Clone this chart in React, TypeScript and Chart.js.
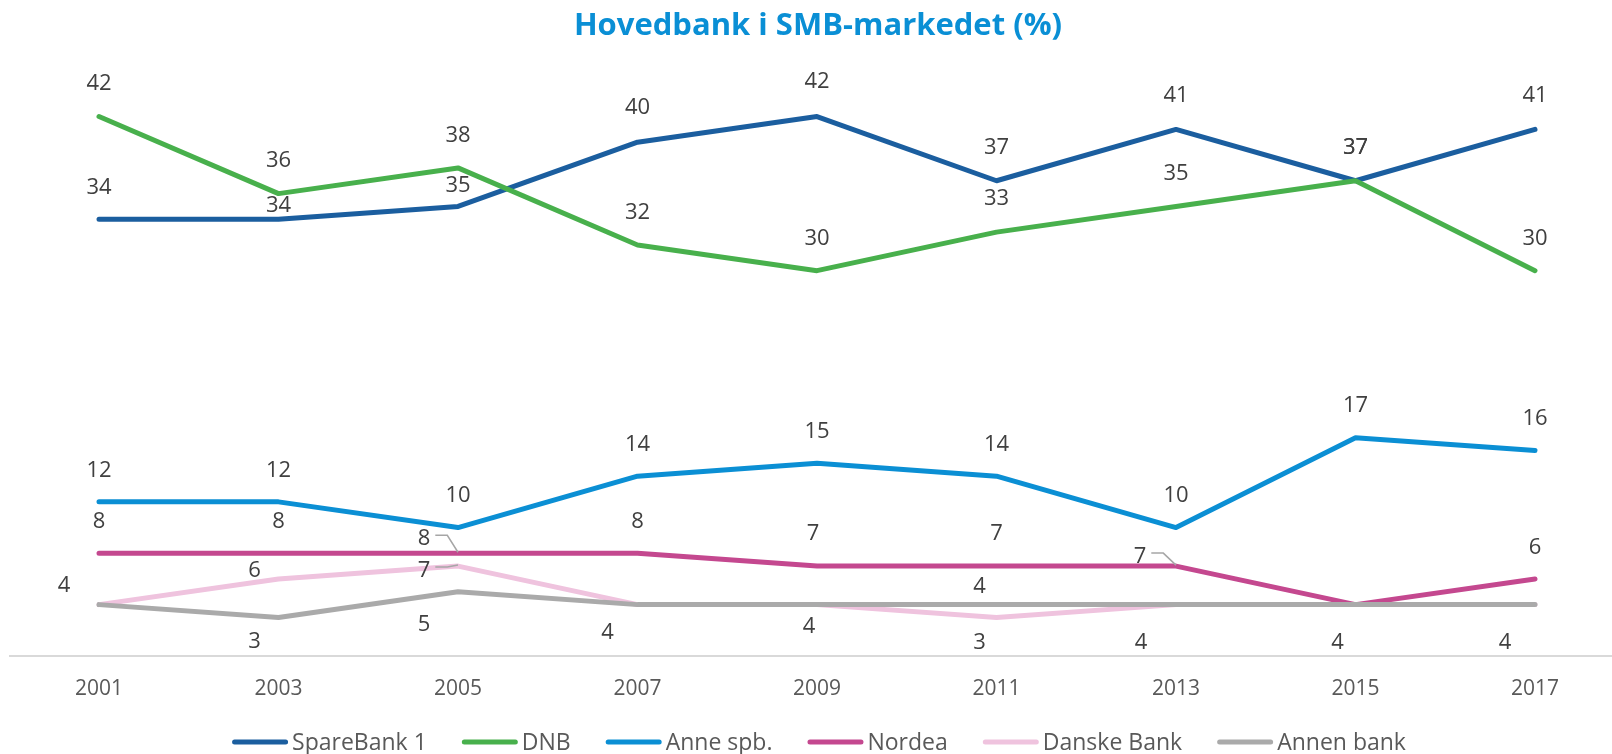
import React, { useEffect, useRef } from 'react';
import { Chart, registerables } from 'chart.js';

Chart.register(...registerables);

const years = ['2001', '2003', '2005', '2007', '2009', '2011', '2013', '2015', '2017'];

const spareBank1 = [34, 34, 35, 40, 42, 37, 41, 37, 41];
const dnb = [42, 36, 38, 32, 30, 33, 35, 37, 30];
const anneSpb = [12, 12, 10, 14, 15, 14, 10, 17, 16];
const nordea = [8, 8, 8, 8, 7, 7, 7, 4, 6];
const danskeBank = [4, 6, 7, 4, 4, 3, 4, 4, 4];
const annenBank = [4, 3, 5, 4, 4, 4, 4, 4, 4];

const seriesNames = ['SpareBank 1', 'DNB', 'Anne spb.', 'Nordea', 'Danske Bank', 'Annen bank'];
const seriesColors = ['#1b5e9f', '#48b04c', '#0b8fd4', '#c4488f', '#efc3de', '#aaaaaa'];

const TITLE = 'Hovedbank i SMB-markedet (%)';
const FONT = '"Open Sans", "DejaVu Sans", sans-serif';

// data-label offsets (px) of the label centre relative to its point; null = no label
type Off = [number, number] | null;
const labelOffsets: Off[][] = [
  [[0, -33], [0, -15], [0, -22], [0, -36], [0, -36], [0, -35], [0, -35], [0, -35], [0, -35]],
  [[0, -34], [0, -34], [0, -34], [0, -34], [0, -34], [0, -35], [0, -34], [0, -35], [0, -34]],
  [[0, -33], [0, -33], [0, -33], [0, -33], [0, -33], [0, -33], [0, -33], [0, -33], [0, -33]],
  [[0, -33], [0, -33], [-34, -16], [0, -33], [-4, -34], [0, -34], [-36, -11], null, [0, -33]],
  [[-35, -20], [-24, -10], [-34, 3], null, null, [-17, 24], null, null, null],
  [null, [-24, 23], [-34, 31], [-30, 27], [-8, 21], [-17, -19], [-35, 37], [-18, 37], [-30, 37]],
];
// labels that have a leader line to their point
const leaderLines: number[][] = [[], [], [], [2, 6], [2], []];

const LABEL_SIZE = 22;
const LEGEND_SIZE = 23;

const overlayPlugin = {
  id: 'overlay',
  beforeDatasetsDraw(chart: any) {
    const ctx = chart.ctx;
    const y0 = chart.scales.y.getPixelForValue(0);
    ctx.save();
    ctx.strokeStyle = '#d9d9d9';
    ctx.lineWidth = 2;
    ctx.beginPath();
    ctx.moveTo(9, y0);
    ctx.lineTo(chart.width, y0);
    ctx.stroke();
    ctx.restore();
  },
  afterDatasetsDraw(chart: any) {
    const ctx = chart.ctx;
    ctx.save();
    ctx.font = `${LABEL_SIZE}px ${FONT}`;
    ctx.fillStyle = '#404040';
    ctx.textAlign = 'center';
    ctx.textBaseline = 'alphabetic';
    const capH = LABEL_SIZE * 0.714;
    chart.data.datasets.forEach((ds: any, di: number) => {
      const meta = chart.getDatasetMeta(di);
      meta.data.forEach((pt: any, i: number) => {
        const off = labelOffsets[di][i];
        if (!off) return;
        const cx = pt.x + off[0];
        const cy = pt.y + off[1];
        const text = String(ds.data[i]);
        ctx.fillText(text, cx, cy + capH / 2);
        if (leaderLines[di].includes(i)) {
          const w = ctx.measureText(text).width;
          const sx = cx + w / 2 + 5;
          const sy = cy - 2;
          ctx.save();
          ctx.strokeStyle = '#a6a6a6';
          ctx.lineWidth = 1.5;
          ctx.beginPath();
          ctx.moveTo(sx, sy);
          ctx.lineTo(sx + 12, sy);
          ctx.lineTo(pt.x, pt.y - 1);
          ctx.stroke();
          ctx.restore();
        }
      });
    });
    ctx.restore();
  },
  afterDraw(chart: any) {
    const ctx = chart.ctx;
    const area = chart.chartArea;
    const cxMid = (area.left + area.right) / 2;
    ctx.save();
    // title
    ctx.font = `bold 31px ${FONT}`;
    ctx.fillStyle = '#0a8fd5';
    ctx.textAlign = 'center';
    ctx.textBaseline = 'alphabetic';
    ctx.fillText(TITLE, cxMid + 1, 35);

    // legend
    ctx.font = `${LEGEND_SIZE}px ${FONT}`;
    const lineW = 56;
    const gapLT = 4;
    const gapItem = 35;
    const widths = seriesNames.map((n) => ctx.measureText(n).width);
    const total = widths.reduce((a, w) => a + lineW + gapLT + w, 0) + gapItem * (seriesNames.length - 1);
    let x = cxMid + 2 - total / 2;
    const ly = 742;
    seriesNames.forEach((name, i) => {
      ctx.strokeStyle = seriesColors[i];
      ctx.lineWidth = 5;
      ctx.lineCap = 'round';
      ctx.beginPath();
      ctx.moveTo(x + 2.5, ly);
      ctx.lineTo(x + lineW - 2.5, ly);
      ctx.stroke();
      ctx.fillStyle = '#595959';
      ctx.textAlign = 'left';
      ctx.fillText(name, x + lineW + gapLT, 750);
      x += lineW + gapLT + widths[i] + gapItem;
    });
    ctx.restore();
  },
};

export default function App() {
  const ref = useRef<HTMLCanvasElement | null>(null);

  useEffect(() => {
    if (!ref.current) return;
    const seriesData = [spareBank1, dnb, anneSpb, nordea, danskeBank, annenBank];
    const chart = new Chart(ref.current, {
      type: 'line',
      data: {
        labels: years,
        datasets: seriesData.map((d, i) => ({
          label: seriesNames[i],
          data: d,
          borderColor: seriesColors[i],
          backgroundColor: seriesColors[i],
          borderWidth: 5,
          pointRadius: 0,
          pointHoverRadius: 0,
          tension: 0,
          borderCapStyle: 'round',
          borderJoinStyle: 'round',
          clip: false as any,
          order: seriesData.length - i,
        })),
      },
      options: {
        responsive: false,
        animation: false,
        events: [],
        layout: { padding: { top: 78, left: 99, right: 77, bottom: 0 } },
        plugins: {
          legend: { display: false },
          title: { display: false },
          tooltip: { enabled: false },
        },
        scales: {
          x: {
            type: 'category',
            offset: false,
            grid: { display: false, drawTicks: false },
            border: { display: false },
            ticks: {
              color: '#595959',
              font: { family: FONT, size: 21 },
              padding: 20,
              maxRotation: 0,
              autoSkip: false,
            },
            afterFit: (s: any) => {
              s.height = 98;
            },
          },
          y: {
            display: false,
            min: 0,
            max: 45,
          },
        },
      },
      plugins: [overlayPlugin],
    });
    return () => chart.destroy();
  }, []);

  return (
    <div style={{ position: 'absolute', left: 0, top: 0, width: 1612, height: 754, background: '#fff' }}>
      <canvas ref={ref} width={1612} height={754} style={{ width: 1612, height: 754, display: 'block' }} />
    </div>
  );
}
